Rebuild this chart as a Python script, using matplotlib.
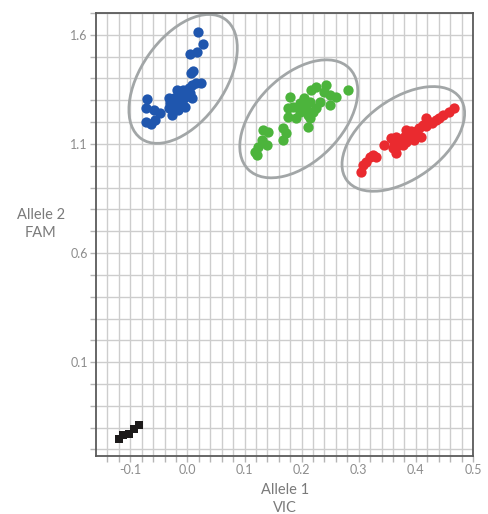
import matplotlib
matplotlib.use('Agg')
import matplotlib.pyplot as plt
import matplotlib.transforms as mtransforms
from matplotlib.patches import Ellipse
import numpy as np

plt.rcParams['font.family'] = ['Lato', 'DejaVu Sans']

# Allele 2 (FAM) homozygotes - blue
blue_x = [0.019, 0.027, 0.0175, 0.0047, 0.006, 0.010, 0.023, 0.015, 0.0077, 0.002,
          -0.007, -0.0185, 0.005, -0.004, -0.016, -0.024, -0.033, -0.010, 0.0077, -0.0185,
          -0.030, -0.004, -0.027, -0.016, -0.033, -0.027, -0.071, -0.072, -0.059, -0.048,
          -0.072, -0.064, -0.056]
blue_y = [1.611, 1.557, 1.522, 1.513, 1.424, 1.432, 1.378, 1.381, 1.371, 1.356,
          1.348, 1.348, 1.332, 1.317, 1.317, 1.310, 1.310, 1.294, 1.310, 1.279,
          1.287, 1.271, 1.256, 1.256, 1.264, 1.233, 1.306, 1.264, 1.256, 1.241,
          1.202, 1.192, 1.210]

# heterozygotes - green
green_x = [0.281, 0.243, 0.226, 0.217, 0.240, 0.249, 0.261, 0.249, 0.179, 0.205,
           0.214, 0.197, 0.185, 0.176, 0.226, 0.220, 0.176, 0.191, 0.211, 0.214,
           0.211, 0.133, 0.141, 0.168, 0.173, 0.168, 0.130, 0.139, 0.124, 0.118,
           0.121, 0.197, 0.232, 0.208]
green_y = [1.348, 1.371, 1.363, 1.348, 1.340, 1.325, 1.317, 1.279, 1.317, 1.310,
           1.294, 1.287, 1.271, 1.264, 1.264, 1.248, 1.225, 1.218, 1.233, 1.218,
           1.179, 1.164, 1.156, 1.172, 1.149, 1.118, 1.118, 1.095, 1.088, 1.065,
           1.050, 1.248, 1.294, 1.271]

# Allele 1 (VIC) homozygotes - red
red_x = [0.418, 0.424, 0.412, 0.406, 0.400, 0.394, 0.389, 0.383, 0.377, 0.371,
         0.383, 0.392, 0.418, 0.429, 0.409, 0.397, 0.380, 0.374, 0.362, 0.365,
         0.357, 0.345, 0.360, 0.365, 0.325, 0.319, 0.331, 0.313, 0.307, 0.304,
         0.467, 0.458, 0.447, 0.441, 0.435]
red_y = [1.218, 1.202, 1.187, 1.172, 1.157, 1.141, 1.126, 1.111, 1.095, 1.095,
         1.164, 1.157, 1.180, 1.195, 1.134, 1.118, 1.134, 1.118, 1.111, 1.134,
         1.126, 1.095, 1.080, 1.057, 1.050, 1.042, 1.042, 1.019, 1.004, 0.973,
         1.264, 1.248, 1.233, 1.218, 1.210]

# no template controls - black squares
ntc_x = [-0.120, -0.112, -0.103, -0.094, -0.085]
ntc_y = [-0.250, -0.235, -0.227, -0.204, -0.189]

# cluster ellipses: centre (data), width/height (pixels), angle (deg)
ell_centres = [(-0.0075, 1.398), (0.195, 1.215), (0.378, 1.123)]
ell_sizes = [(146, 84), (143, 86), (140, 80)]
ell_angles = [55, 45, 36]

x_major = [-0.1, 0.0, 0.1, 0.2, 0.3, 0.4, 0.5]
y_major = [0.1, 0.6, 1.1, 1.6]

DPI = 100
fig = plt.figure(figsize=(4.88, 5.14), dpi=DPI)
ax = fig.add_axes([96/488, 58/514, 377/488, 443/514])

ax.scatter(blue_x, blue_y, s=55, color='#1f56ae', lw=0, zorder=3)
ax.scatter(green_x, green_y, s=55, color='#4cb43c', lw=0, zorder=3)
ax.scatter(red_x, red_y, s=55, color='#ea2a2f', lw=0, zorder=3)
ax.scatter(ntc_x, ntc_y, s=40, marker='s', color='#1c1a1a', lw=0, zorder=3)

for (cx, cy), (w, h), ang in zip(ell_centres, ell_sizes, ell_angles):
    trans = fig.dpi_scale_trans + mtransforms.ScaledTranslation(cx, cy, ax.transData)
    e = Ellipse((0, 0), w / DPI, h / DPI, angle=ang, transform=trans,
                fill=False, edgecolor='#a2a6a7', lw=2.0, zorder=2)
    ax.add_patch(e)

ax.set_xlim(-0.16, 0.5)
ax.set_ylim(-0.33, 1.70)
ax.set_xticks(x_major)
ax.set_xticklabels(['-0.1', '0.0', '0.1', '0.2', '0.3', '0.4', '0.5'])
ax.set_xticks(np.arange(-0.14, 0.5, 0.02), minor=True)
ax.set_yticks(y_major)
ax.set_yticklabels(['0.1', '0.6', '1.1', '1.6'])
ax.set_yticks(np.arange(-0.3, 1.71, 0.1), minor=True)

ax.grid(True, which='both', color='#cdcdcd', lw=1.0, zorder=0)
ax.set_axisbelow(True)
ax.tick_params(which='both', colors='#b5b5b5', labelcolor='#8c8c8c',
               labelsize=9, length=4, width=1, pad=2)
for s in ax.spines.values():
    s.set_color('#5a5a5a')
    s.set_linewidth(1.3)

fig.text(285/488, 1 - 499/514, 'Allele 1\nVIC', ha='center', va='center',
         fontsize=10.5, color='#7a7a7a', linespacing=1.35)
fig.text(41/488, 1 - 224/514, 'Allele 2\nFAM', ha='center', va='center',
         fontsize=10.5, color='#7a7a7a', linespacing=1.35)

fig.savefig('out.png', dpi=DPI)
